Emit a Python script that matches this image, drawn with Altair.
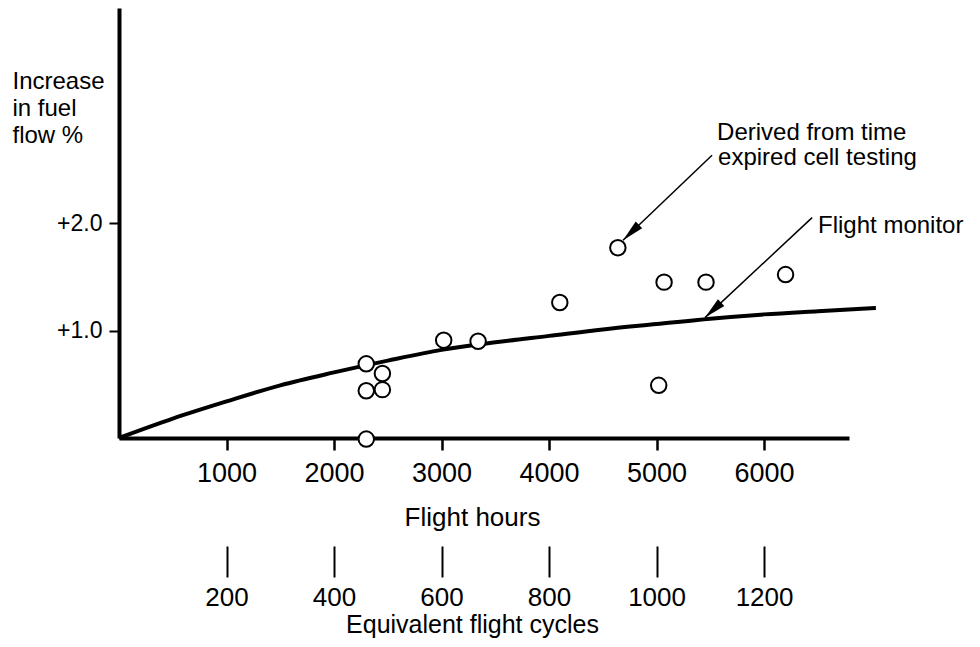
import altair as alt
import pandas as pd

FONT = "Liberation Sans"

# ---- data ----
pt_hours = [2300, 2450, 2300, 2450, 2300, 3020, 3340, 4100, 4640, 5070, 5460, 6200, 5020]
pt_fuel = [0.69, 0.60, 0.44, 0.45, -0.01, 0.91, 0.90, 1.26, 1.77, 1.45, 1.45, 1.52, 0.49]

curve_hours = [0, 500, 1000, 1500, 2000, 2500, 3000, 3500, 4000, 4500, 5000, 5500, 6000, 6500, 7040]
curve_fuel = [0, 0.18, 0.34, 0.49, 0.61, 0.72, 0.82, 0.89, 0.95, 1.01, 1.06, 1.11, 1.15, 1.18, 1.21]

hour_ticks = [1000, 2000, 3000, 4000, 5000, 6000]
cycle_ticks = [200, 400, 600, 800, 1000, 1200]
fuel_ticks = [1.0, 2.0]

note_text = ["Derived from time", "expired cell testing", "Flight monitor"]
note_hours = [5563, 5572, 6502]
note_fuel = [2.77, 2.54, 1.91]

arrow_from_hours = [5516, 6447]
arrow_from_fuel = [2.63, 2.05]
arrow_to_hours = [4688, 5451]
arrow_to_fuel = [1.84, 1.12]
arrow_angle = [226.3, 226.9]

# ---- tables ----
curve_df = pd.DataFrame({"h": curve_hours, "v": curve_fuel})
pts_df = pd.DataFrame({"h": pt_hours, "v": pt_fuel})
note_df = pd.DataFrame({"h": note_hours, "v": note_fuel, "t": note_text})
arrow_df = pd.DataFrame({"h": arrow_from_hours, "v": arrow_from_fuel,
                         "h2": arrow_to_hours, "v2": arrow_to_fuel})
head_df = pd.DataFrame({"h": arrow_to_hours, "v": arrow_to_fuel, "a": arrow_angle})
cyc_df = pd.DataFrame({"c": cycle_ticks})

xs = alt.Scale(domain=[0, 6790], nice=False, zero=False)
ys = alt.Scale(domain=[0, 4], nice=False, zero=False)

x_axis = alt.Axis(
    values=hour_ticks, format="d", grid=False,
    domainColor="black", domainWidth=4,
    tickColor="black", tickWidth=2.5, tickSize=12,
    labelFont=FONT, labelFontSize=27, labelColor="black",
    labelBaseline="alphabetic", labelPadding=31, labelFlush=False,
    title="Flight hours", titleFont=FONT, titleFontSize=26,
    titleFontWeight="normal", titleColor="black",
    titleX=353, titleY=87, titleAlign="center", titleBaseline="alphabetic",
)
y_axis = alt.Axis(
    values=fuel_ticks, grid=False,
    labelExpr="'+' + format(datum.value, '.1f')",
    domainColor="black", domainWidth=4,
    tickColor="black", tickWidth=2, tickSize=10,
    labelFont=FONT, labelFontSize=23, labelColor="black",
    labelPadding=7, labelBaseline="middle", labelAlign="right",
    title=["Increase", "in fuel", "flow %"], titleFont=FONT, titleFontSize=24,
    titleFontWeight="normal", titleColor="black", titleAngle=0,
    titleAlign="left", titleBaseline="alphabetic", titleLineHeight=27,
    titleX=-107, titleY=80,
)

curve = alt.Chart(curve_df).mark_line(
    color="black", strokeWidth=4, interpolate="monotone"
).encode(
    x=alt.X("h:Q", scale=xs, axis=x_axis),
    y=alt.Y("v:Q", scale=ys, axis=y_axis),
)

points = alt.Chart(pts_df).mark_point(
    shape="circle", filled=True, fill="white", stroke="black",
    strokeWidth=2, size=240, opacity=1, fillOpacity=1,
).encode(x="h:Q", y="v:Q")

arrows = alt.Chart(arrow_df).mark_rule(color="black", strokeWidth=1.5).encode(
    x="h:Q", y="v:Q", x2="h2:Q", y2="v2:Q"
)

heads = alt.Chart(head_df).mark_point(
    shape="M0,0 L0.38,1.8 L-0.38,1.8 Z", filled=True, color="black",
    size=600, opacity=1, strokeWidth=0,
).encode(x="h:Q", y="v:Q", angle=alt.Angle("a:Q", scale=None))

notes = alt.Chart(note_df).mark_text(
    align="left", baseline="alphabetic", font=FONT, fontSize=24, color="black"
).encode(x="h:Q", y="v:Q", text="t:N")

hours_layer = alt.layer(curve, arrows, heads, points, notes)

cycles = alt.Chart(cyc_df).mark_point(opacity=0).encode(
    x=alt.X("c:Q", scale=alt.Scale(domain=[0, 1358], nice=False, zero=False),
            axis=alt.Axis(
                values=cycle_ticks, format="d", grid=False, domain=False,
                orient="bottom", offset=108,
                tickColor="black", tickWidth=2, tickSize=31,
                labelFont=FONT, labelFontSize=26, labelColor="black",
                labelBaseline="alphabetic", labelPadding=28, labelFlush=False,
                title="Equivalent flight cycles", titleFont=FONT, titleFontSize=25,
                titleFontWeight="normal", titleColor="black",
                titleX=353, titleY=86, titleAlign="center",
                titleBaseline="alphabetic",
            )),
    y=alt.value(0),
)

chart = alt.layer(hours_layer, cycles).resolve_scale(x="independent").properties(
    width=730, height=430,
    autosize=alt.AutoSizeParams(type="none"),
    padding={"left": 111, "top": 0, "right": 123, "bottom": 203},
    background="white",
).configure_view(stroke=None)

chart.save("out.html", embed_options={"renderer": "svg", "actions": False})
